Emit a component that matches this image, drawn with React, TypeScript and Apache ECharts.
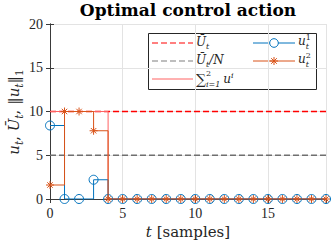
import React, { useEffect, useRef } from "react";
import * as echarts from "echarts";

// ---- data ----
const tSamples = [0, 1, 2, 3, 4, 5, 6, 7, 8, 9, 10, 11, 12, 13, 14, 15, 16, 17, 18, 19];
const u1 = [8.4, 0, 0, 2.2, 0, 0, 0, 0, 0, 0, 0, 0, 0, 0, 0, 0, 0, 0, 0, 0];
const u2 = [1.6, 10, 10, 7.8, 0, 0, 0, 0, 0, 0, 0, 0, 0, 0, 0, 0, 0, 0, 0, 0];
const uSum = [10, 10, 10, 10, 0, 0, 0, 0, 0, 0, 0, 0, 0, 0, 0, 0, 0, 0, 0, 0];
const uBar = 10;
const uBarN = 5;
const xTicks = [0, 5, 10, 15];
const yTicks = [0, 5, 10, 15, 20];

const BLUE = "#0072BD";
const ORANGE = "#D95319";
const SUMRED = "#ff6262";
const SERIF = "'DejaVu Serif', serif";
const TICKFONT = "'Liberation Serif', 'DejaVu Serif', serif";
const INK = "#262626";

type Seg = { t: string; size: number; it?: boolean; b?: boolean; dy?: number; keep?: boolean; gap?: number };

let measureCtx: CanvasRenderingContext2D | null = null;
function fontStr(s: Seg) {
  return `${s.it ? "italic " : ""}${s.b ? "bold " : ""}${s.size}px ${SERIF}`;
}
function segWidth(s: Seg) {
  if (!measureCtx) measureCtx = document.createElement("canvas").getContext("2d");
  measureCtx!.font = fontStr(s);
  return measureCtx!.measureText(s.t).width;
}
function layout(segs: Seg[], x0: number, base: number, align: "left" | "center", color: string) {
  let total = 0;
  segs.forEach((s) => {
    if (!s.keep) total += segWidth(s) + (s.gap || 0);
  });
  let x = align === "center" ? x0 - total / 2 : x0;
  const els: any[] = [];
  segs.forEach((s) => {
    els.push({
      type: "text",
      x,
      y: base + (s.dy || 0) - 0.33 * s.size,
      silent: true,
      style: {
        text: s.t,
        font: fontStr(s),
        fill: color,
        align: "left",
        verticalAlign: "middle",
        textAlign: "left",
        textVerticalAlign: "middle",
      },
    });
    if (!s.keep) x += segWidth(s) + (s.gap || 0);
  });
  return els;
}

const STAR = "path://M5,0L5,10M0,5L10,5M1.6,1.6L8.4,8.4M1.6,8.4L8.4,1.6";

function starLines(cx: number, cy: number, r: number, color: string) {
  const d = r * 0.707;
  const segs = [
    [cx, cy - r, cx, cy + r],
    [cx - r, cy, cx + r, cy],
    [cx - d, cy - d, cx + d, cy + d],
    [cx - d, cy + d, cx + d, cy - d],
  ];
  return segs.map((s) => ({
    type: "line",
    shape: { x1: s[0], y1: s[1], x2: s[2], y2: s[3] },
    style: { stroke: color, lineWidth: 1 },
  }));
}

export default function App() {
  const ref = useRef<HTMLDivElement>(null);
  useEffect(() => {
    document.body.style.margin = "0";
    const chart = echarts.init(ref.current!, null, { renderer: "svg" });
    const xMin = tSamples[0];
    const xMax = tSamples[tSamples.length - 1];
    const pairs = (arr: number[]) => tSamples.map((t, i) => [t, arr[i]]);

    const S = 12; // legend font
    const s = 8; // legend sub font
    const rows = [43, 61, 79];
    const legendEls: any[] = [
      {
        type: "rect",
        shape: { x: 148.5, y: 33.5, width: 168, height: 56 },
        style: { fill: "#fff", stroke: INK, lineWidth: 1 },
      },
      { type: "line", shape: { x1: 152, y1: rows[0], x2: 193, y2: rows[0] }, style: { stroke: "#ff0000", lineWidth: 1.2, lineDash: [6, 3] } },
      { type: "line", shape: { x1: 152, y1: rows[1], x2: 193, y2: rows[1] }, style: { stroke: "#7f7f7f", lineWidth: 1.2, lineDash: [6, 3] } },
      { type: "line", shape: { x1: 152, y1: rows[2], x2: 193, y2: rows[2] }, style: { stroke: SUMRED, lineWidth: 1 } },
      { type: "line", shape: { x1: 253, y1: rows[0], x2: 295, y2: rows[0] }, style: { stroke: BLUE, lineWidth: 1 } },
      { type: "circle", shape: { cx: 274, cy: rows[0], r: 4.3 }, style: { fill: "#fff", stroke: BLUE, lineWidth: 1 } },
      { type: "line", shape: { x1: 253, y1: rows[1], x2: 295, y2: rows[1] }, style: { stroke: ORANGE, lineWidth: 1 } },
      ...starLines(274, rows[1], 4, ORANGE),
      ...layout([{ t: "Ū", size: S, it: true }, { t: "t", size: s, it: true, dy: 3 }], 196, rows[0] + 3, "left", INK),
      ...layout(
        [{ t: "Ū", size: S, it: true }, { t: "t", size: s, it: true, dy: 3 }, { t: "/N", size: S, it: true }],
        196,
        rows[1] + 3,
        "left",
        INK
      ),
      ...layout(
        [
          { t: "∑", size: 14, dy: 1 },
          { t: "2", size: s, dy: -7, keep: true },
          { t: "i=1", size: s, it: true, dy: 4, gap: 3 },
          { t: "u", size: S, it: true },
          { t: "i", size: s, it: true, dy: -5 },
        ],
        196,
        rows[2] + 4,
        "left",
        INK
      ),
      ...layout(
        [{ t: "u", size: S, it: true }, { t: "t", size: s, it: true, dy: 4, keep: true }, { t: "1", size: s, dy: -5 }],
        298,
        rows[0] + 2,
        "left",
        INK
      ),
      ...layout(
        [{ t: "u", size: S, it: true }, { t: "t", size: s, it: true, dy: 4, keep: true }, { t: "2", size: s, dy: -5 }],
        298,
        rows[1] + 2,
        "left",
        INK
      ),
    ];

    const yl = 15;
    const ys = 10.5;
    const yLabel = layout(
      [
        { t: "u", size: yl, it: true },
        { t: "t", size: ys, it: true, dy: 3.5 },
        { t: ", ", size: yl },
        { t: "Ū", size: yl, it: true },
        { t: "t", size: ys, it: true, dy: 3.5 },
        { t: ", ", size: yl },
        { t: "‖", size: yl },
        { t: "u", size: yl, it: true },
        { t: "t", size: ys, it: true, dy: 3.5 },
        { t: "‖", size: yl },
        { t: "1", size: ys, dy: 3.5 },
      ],
      0,
      0,
      "center",
      INK
    );

    const axisCommon = {
      type: "value",
      axisLine: { show: true, lineStyle: { color: "#3a3a3a", width: 1 } },
      axisTick: { show: true, inside: true, length: 4, lineStyle: { color: "#3a3a3a" } },
    };

    chart.setOption({
      animation: false,
      grid: { left: 50, top: 24, width: 276, height: 175, containLabel: false },
      xAxis: [
        {
          ...axisCommon,
          min: xMin,
          max: xMax,
          interval: xTicks[1] - xTicks[0],
          position: "bottom",
          axisLabel: { color: INK, fontFamily: TICKFONT, fontSize: 14, margin: 7, showMaxLabel: false },
          splitLine: { show: true, lineStyle: { color: "#e3e3e3", width: 1 } },
        },
        {
          ...axisCommon,
          min: xMin,
          max: xMax,
          interval: xTicks[1] - xTicks[0],
          position: "top",
          axisLabel: { show: false },
          splitLine: { show: false },
        },
      ],
      yAxis: [
        {
          ...axisCommon,
          min: yTicks[0],
          max: yTicks[yTicks.length - 1],
          interval: yTicks[1] - yTicks[0],
          position: "left",
          axisLabel: { color: INK, fontFamily: TICKFONT, fontSize: 14, margin: 7 },
          splitLine: { show: true, lineStyle: { color: "#e3e3e3", width: 1 } },
        },
        {
          ...axisCommon,
          min: yTicks[0],
          max: yTicks[yTicks.length - 1],
          interval: yTicks[1] - yTicks[0],
          position: "right",
          axisLabel: { show: false },
          splitLine: { show: false },
        },
      ],
      series: [
        {
          name: "Ubar",
          type: "line",
          data: [
            [xMin, uBar],
            [xMax, uBar],
          ],
          showSymbol: false,
          lineStyle: { color: "#ff0000", width: 1.3, type: [6, 3] },
          z: 2,
        },
        {
          name: "UbarN",
          type: "line",
          data: [
            [xMin, uBarN],
            [xMax, uBarN],
          ],
          showSymbol: false,
          lineStyle: { color: "#6f6f6f", width: 1.3, type: [6, 3] },
          z: 2,
        },
        {
          name: "sum",
          type: "line",
          step: "end",
          data: pairs(uSum),
          showSymbol: false,
          lineStyle: { color: SUMRED, width: 1 },
          z: 3,
        },
        {
          name: "u1",
          type: "line",
          step: "end",
          data: pairs(u1),
          symbol: "circle",
          symbolSize: 9,
          showAllSymbol: true,
          lineStyle: { color: BLUE, width: 1 },
          itemStyle: { color: "rgba(0,0,0,0)", borderColor: BLUE, borderWidth: 1 },
          z: 4,
        },
        {
          name: "u2",
          type: "line",
          step: "end",
          data: pairs(u2),
          symbol: STAR,
          symbolSize: 8,
          showAllSymbol: true,
          lineStyle: { color: ORANGE, width: 1 },
          itemStyle: { color: ORANGE, borderColor: ORANGE, borderWidth: 1 },
          z: 5,
        },
      ],
      graphic: [
        {
          type: "group",
          z: 100,
          children: [
            ...layout([{ t: "Optimal control action", size: 17, b: true }], 188, 16, "center", "#000"),
            ...layout(
              [
                { t: "t", size: 15, it: true },
                { t: " [samples]", size: 15 },
              ],
              188,
              237,
              "center",
              INK
            ),
          ],
        },
        {
          type: "group",
          x: 19,
          y: 112,
          rotation: Math.PI / 2,
          z: 100,
          children: yLabel,
        },
        {
          type: "group",
          z: 100,
          children: legendEls,
        },
      ],
    });
    return () => chart.dispose();
  }, []);
  return <div ref={ref} style={{ position: "absolute", left: 0, top: 0, width: 332, height: 246 }} />;
}
